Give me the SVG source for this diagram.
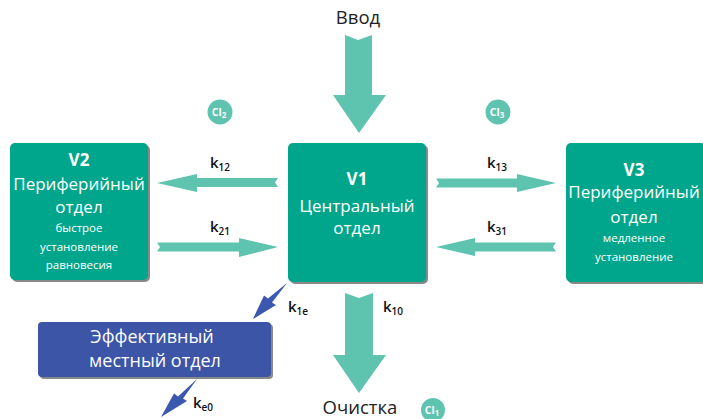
<svg xmlns="http://www.w3.org/2000/svg" width="703" height="419" viewBox="0 0 703 419">
<style>
text{font-family:"Open Sans","Liberation Sans",sans-serif}
.box{fill:#00A68C}
.bbox{fill:#3C55A6}
.sh{fill:#6b6b6b;opacity:0.8}
.arr{fill:#5EC4B0}
.barr{fill:#3B58B0}
.wt{fill:#fff;text-anchor:middle}
.big{font-size:17px}
.eff{font-size:18px}
.bold{font-size:17px;font-weight:700}
.sm{font-size:11.5px}
.lbl{font-size:15px;font-weight:600;fill:#111}
.sub{font-size:10px;font-weight:600}
.cl{fill:#5EC4B0}
.clt{fill:#fff;font-size:10.5px;font-weight:700;text-anchor:middle}
.dark{fill:#222;font-size:18.5px;text-anchor:middle}
</style>
<g id="connectors">
  <polygon class="arr" points="345,35 358,40 372,35 372,95 386,95 359,133 333,95 345,95"/>
  <polygon class="arr" points="157,183 197,174 197,178 278,178 275,182.5 278,187 197,187 197,192"/>
  <polygon class="arr" points="278,247 239,238 239,242.5 157,242.5 160,247 157,251.5 239,251.5 239,257"/>
  <polygon class="arr" points="556,183 517,174 517,178.5 436,178.5 439,183 436,187.5 517,187.5 517,192"/>
  <polygon class="arr" points="436,247 475,238 475,242.5 556,242.5 553,247 556,251.5 475,251.5 475,256"/>
  <polygon class="arr" points="345,293 359,298 373,293 373,355 386,355 359,393 333,355 345,355"/>
  <polygon class="barr" points="287,283 272,302.5 276,305 253,319 264,295.5 268,298.5"/>
  <polygon class="barr" points="197,379 183,398.5 187,401 161,417 174,393.5 178,396.5"/>
  <text class="lbl" x="210" y="168">k<tspan class="sub" dy="3">12</tspan></text>
  <text class="lbl" x="210" y="232">k<tspan class="sub" dy="3">21</tspan></text>
  <text class="lbl" x="487" y="168">k<tspan class="sub" dy="3">13</tspan></text>
  <text class="lbl" x="487" y="232">k<tspan class="sub" dy="3">31</tspan></text>
  <text class="lbl" x="383" y="312">k<tspan class="sub" dy="3">10</tspan></text>
  <text class="lbl" x="288" y="312">k<tspan class="sub" dy="3">1e</tspan></text>
  <text class="lbl" x="193" y="408">k<tspan class="sub" dy="3">e0</tspan></text>
</g>
<g id="input">
  <text class="dark" x="358" y="24">Ввод</text>
</g>
<g id="output">
  <text class="dark" x="360" y="414">Очистка</text>
</g>
<g id="cl2">
  <circle class="cl" cx="220" cy="112" r="12.5"/>
  <text class="clt" x="219" y="116">Cl<tspan font-size="8" dy="2">2</tspan></text>
</g>
<g id="cl3">
  <circle class="cl" cx="498" cy="112" r="12.5"/>
  <text class="clt" x="497" y="116">Cl<tspan font-size="8" dy="2">3</tspan></text>
</g>
<g id="cl1">
  <circle class="cl" cx="433" cy="410" r="12"/>
  <text class="clt" x="432" y="414">Cl<tspan font-size="8" dy="2">1</tspan></text>
</g>
<g id="V2">
  <rect class="sh" x="12" y="145" width="138" height="137" rx="5"/>
  <rect class="box" x="10" y="143" width="138" height="137" rx="5"/>
  <text class="wt bold" x="79" y="166">V2</text>
  <text class="wt big" x="79" y="190">Периферийный</text>
  <text class="wt big" x="79" y="213">отдел</text>
  <text class="wt sm" x="79" y="232">быстрое</text>
  <text class="wt sm" x="79" y="251">установление</text>
  <text class="wt sm" x="79" y="269">равновесия</text>
</g>
<g id="V1">
  <rect class="sh" x="290" y="145" width="138" height="139" rx="5"/>
  <rect class="box" x="288" y="143" width="138" height="139" rx="5"/>
  <text class="wt bold" x="357" y="185">V1</text>
  <text class="wt big" x="357" y="212">Центральный</text>
  <text class="wt big" x="357" y="234">отдел</text>
</g>
<g id="V3">
  <rect class="sh" x="568" y="145" width="140" height="139" rx="5"/>
  <rect class="box" x="566" y="143" width="140" height="139" rx="5"/>
  <text class="wt bold" x="634" y="176">V3</text>
  <text class="wt big" x="634" y="198">Периферийный</text>
  <text class="wt big" x="634" y="223">отдел</text>
  <text class="wt sm" x="634" y="242">медленное</text>
  <text class="wt sm" x="634" y="261">установление</text>
</g>
<g id="effect">
  <rect class="sh" x="40" y="324" width="233" height="55" rx="4"/>
  <rect class="bbox" x="38" y="322" width="233" height="55" rx="4"/>
  <text class="wt eff" x="152" y="343">Эффективный</text>
  <text class="wt eff" x="155" y="367">местный отдел</text>
</g>
</svg>
